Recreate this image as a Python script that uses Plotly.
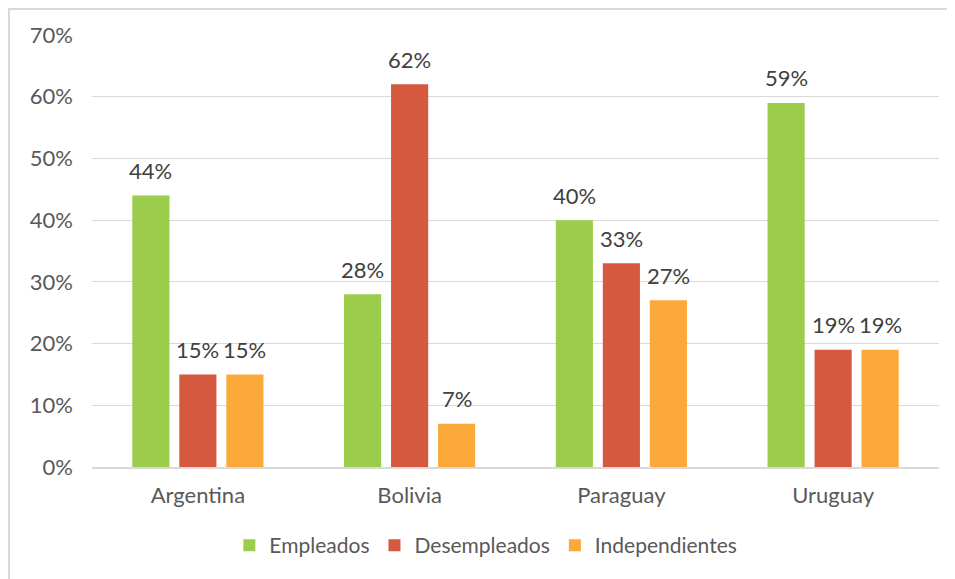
import plotly.graph_objects as go

categories = ["Argentina", "Bolivia", "Paraguay", "Uruguay"]
empleados = [0.44, 0.28, 0.40, 0.59]
desempleados = [0.15, 0.62, 0.33, 0.19]
independientes = [0.15, 0.07, 0.27, 0.19]
series_names = ["Empleados", "Desempleados", "Independientes"]
colors = ["#9BCC4B", "#D5593F", "#FBA93A"]

# page has an 8px body margin, so the figure is sized/offset to compensate
W, H = 947, 571
L, R, T, B = 84, 16, 27, 112
FONT = "Lato"
FS = 22

fig = go.Figure()
series = [empleados, desempleados, independientes]
offsets = [-47, 0, 47]
for name, vals, col, off in zip(series_names, series, colors, offsets):
    fig.add_trace(go.Bar(
        x=categories, y=vals, name=name, marker=dict(color=col, line=dict(width=0)),
        cliponaxis=False, hoverinfo="skip",
    ))
    for c, v in zip(categories, vals):
        fig.add_annotation(x=c, y=v, xref="x", yref="y", text=f"{round(v*100)}%",
                           showarrow=False, xshift=off, yshift=25, yanchor="middle",
                           font=dict(family=FONT, size=FS, color="#404040"))

fig.update_layout(
    width=W, height=H,
    margin=dict(l=L, r=R, t=T, b=B),
    paper_bgcolor="white", plot_bgcolor="white",
    barmode="group", bargap=0.334, bargroupgap=0.21,
    font=dict(family=FONT, size=FS, color="#595959"),
    showlegend=True,
    legend=dict(orientation="h", x=0.465, xanchor="center", y=-0.182, yanchor="middle",
                font=dict(family=FONT, size=21, color="#595959"), itemwidth=30,
                traceorder="normal"),
    xaxis=dict(showline=True, linecolor="#D9D9D9", linewidth=1.5, ticks="",
               ticklabelstandoff=8, tickfont=dict(family=FONT, size=FS, color="#595959")),
    yaxis=dict(range=[0, 0.70], dtick=0.10, tickformat=".0%", showgrid=True,
               gridcolor="#D9D9D9", gridwidth=1.2, zeroline=False, ticks="",
               ticklabelstandoff=18, tickfont=dict(family=FONT, size=FS, color="#595959")),
)

# chart outer border (left and top edges visible; right/bottom lie outside the picture)
pw, ph = W - L - R, H - T - B
def px_x(x): return (x - L) / pw
def px_y(y): return (H - B - y) / ph
border = dict(color="#D9D9D9", width=2)
fig.add_shape(type="line", xref="paper", yref="paper", layer="above",
              x0=px_x(1), x1=px_x(1), y0=px_y(H), y1=px_y(0), line=border)
fig.add_shape(type="line", xref="paper", yref="paper", layer="above",
              x0=px_x(0), x1=px_x(W), y0=px_y(1), y1=px_y(1), line=border)

fig.write_html("out.html", config={"displayModeBar": False})
